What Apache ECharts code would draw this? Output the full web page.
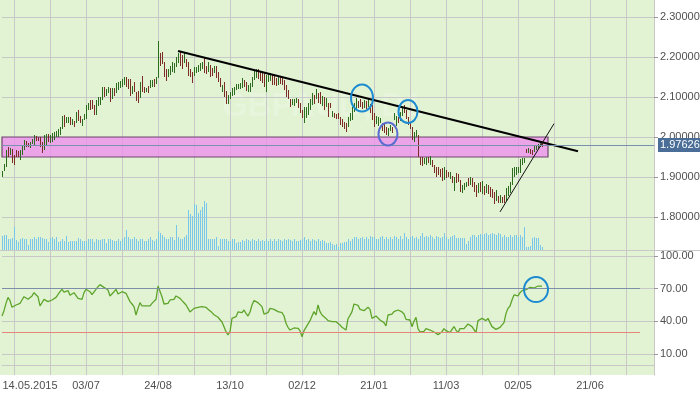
<!DOCTYPE html>
<html><head><meta charset="utf-8">
<script src="https://cdn.jsdelivr.net/npm/echarts@6/dist/echarts.min.js"></script>
<style>html,body{margin:0;padding:0;background:#fff}#c{width:700px;height:394px}</style>
</head><body><div id="c"></div>
<script>
// ---------------- data ----------------
const firstDate = '2015-05-06';      // first bar (weekday calendar, forex D1)
const slotCount = 327;               // weekday slots shown on the axis
const tickLabels = ['14.05.2015','03/07','24/08','13/10','02/12','21/01','11/03','02/05','21/06'];
const priceTicks = [1.8, 1.9, 2.0, 2.1, 2.2, 2.3];
const rsiTicks = [10, 40, 70, 100];

const high = [
1.9158,1.9325,1.9675,1.9758,1.9717,1.9692,1.955,1.9675,1.9658,1.9675,
1.9775,1.9925,1.9908,1.9842,1.9883,1.9942,2.005,2.0025,2.0008,1.9992,
1.9883,2.005,2.0075,2.0075,2.005,2.0108,2.0133,2.0158,2.0192,2.0242,
2.0525,2.055,2.0492,2.0508,2.0492,2.0442,2.0408,2.0633,2.0675,2.0525,
2.0442,2.0575,2.08,2.0858,2.0925,2.0925,2.08,2.0925,2.1008,2.0992,
2.1242,2.1242,2.1192,2.1258,2.1217,
2.1217,2.1217,2.1342,2.1383,2.1408,2.1442,2.1492,2.1508,2.1442,2.1442,
2.1275,2.1383,2.1133,2.1158,2.1383,2.1525,2.1258,2.1217,2.1275,2.1425,
2.1425,2.1442,2.1508,2.2408,2.2108,2.2133,2.1883,2.1692,2.1692,2.1775,
2.1883,2.1842,2.1992,2.2108,2.2158,2.205,2.2092,2.1942,2.1883,2.1692,
2.1633,2.1742,2.1758,2.18,2.1842,2.1883,2.1967,2.1775,2.1883,2.18,
2.1717,2.1775,2.1775,2.1633,2.1467,
2.13,2.1383,2.1158,2.105,2.1133,2.1217,2.1258,2.1325,2.1325,2.1358,
2.1467,2.1425,2.1383,2.13,2.1358,2.1508,2.1675,2.1692,2.1692,2.1633,
2.1608,2.1592,2.155,2.1575,2.1592,2.155,2.1525,2.1467,2.1508,2.1492,
2.1492,2.1425,2.13,2.1175,2.0942,2.0942,2.0942,2.0967,2.0942,2.0858,
2.0675,2.0758,2.0742,2.0858,2.0942,2.1092,2.105,2.1192,2.1092,2.1133,
2.1025,2.1008,2.0967,2.0858,2.0842,
2.0658,2.0592,2.0575,2.0592,2.0492,2.0442,2.0383,2.0358,2.0508,2.0592,
2.0758,2.0842,2.0967,2.0908,2.0942,2.0883,2.0925,2.0908,2.0967,2.0825,
2.08,2.0592,2.0525,2.0492,2.0467,2.0358,2.0342,2.0258,2.0217,2.03,
2.0258,2.0592,2.0525,2.0492,2.0633,2.0742,2.08,2.0675,2.0508,2.0383,
2.0258,2.0133,2.0175,2.005,1.9508,1.9492,1.9467,1.9508,1.9492,1.9525,
1.9425,1.93,1.9258,1.9258,1.9192,
1.9217,1.9258,1.9175,1.9133,1.9133,1.9025,1.9008,1.9108,1.9075,1.8925,
1.88,1.8858,1.8883,1.8967,1.9008,1.8967,1.8883,1.88,1.8842,1.8883,
1.8908,1.8775,1.8825,1.88,1.8758,1.8692,1.8633,1.8675,1.8525,1.855,
1.849,1.855,1.8717,1.8775,1.8883,1.9217,1.9242,1.9258,1.9258,1.9442,
1.9467,1.9467,1.9692,1.9717,1.9692,1.9675,1.9775,1.98,1.9825,1.9883,
1.9858];
const low = [
1.8992,1.9158,1.9242,1.9492,1.955,1.9358,1.93,1.9508,1.9508,1.9425,
1.955,1.9675,1.9758,1.9742,1.9717,1.9825,1.9775,1.9908,1.9908,1.9742,
1.9608,1.9675,1.98,1.9883,1.9858,1.9883,1.9925,1.9992,1.9992,2.005,
2.0192,2.0258,2.0342,2.0358,2.03,2.03,2.0242,2.0342,2.0408,2.0358,
2.0275,2.0425,2.0442,2.0675,2.0675,2.0692,2.055,2.055,2.0775,2.08,
2.0925,2.1008,2.1025,2.1092,2.0883,
2.0942,2.1025,2.1092,2.1175,2.1217,2.1242,2.13,2.1258,2.1192,2.1025,
2.1075,2.1133,2.0908,2.0858,2.0967,2.1133,2.1092,2.1133,2.1108,2.1217,
2.1258,2.1242,2.1325,2.1467,2.1775,2.1825,2.1508,2.1408,2.1508,2.155,
2.1633,2.1592,2.1742,2.1858,2.1775,2.1692,2.1842,2.1758,2.1525,2.1492,
2.1358,2.1525,2.1608,2.1633,2.1658,2.1692,2.1592,2.1575,2.1633,2.1508,
2.1525,2.1592,2.1467,2.1383,2.1242,
2.1133,2.1008,2.0825,2.0825,2.0942,2.1025,2.105,2.1175,2.1192,2.1192,
2.1217,2.1258,2.1158,2.1133,2.1133,2.1258,2.1425,2.1467,2.1442,2.1408,
2.1342,2.1258,2.1133,2.1383,2.1408,2.13,2.13,2.1275,2.13,2.1325,
2.13,2.1175,2.0992,2.0942,2.0758,2.08,2.0775,2.0842,2.0717,2.0592,
2.0467,2.0358,2.0467,2.055,2.0675,2.08,2.0825,2.0942,2.0842,2.0825,
2.0775,2.0675,2.0758,2.0508,2.0717,
2.0508,2.0467,2.0442,2.0442,2.03,2.0242,2.0192,2.0133,2.0242,2.0408,
2.0425,2.0633,2.0675,2.0717,2.0758,2.0692,2.0717,2.0692,2.0758,2.0592,
2.0425,2.0258,2.0325,2.0275,2.0342,2.0158,2.0108,2.005,2.0025,2.0158,
2.0092,2.0425,2.0275,2.0342,2.0408,2.0525,2.0592,2.0442,2.03,2.0192,
1.9925,1.9883,1.9992,1.9492,1.93,1.9275,1.9325,1.93,1.9358,1.93,
1.9242,1.9108,1.9008,1.905,1.9008,
1.8908,1.8925,1.8967,1.9008,1.8942,1.8858,1.8658,1.8842,1.8883,1.8633,
1.8608,1.8675,1.8742,1.8775,1.88,1.8758,1.8633,1.8492,1.8592,1.8633,
1.8575,1.855,1.8608,1.8575,1.8508,1.8467,1.8325,1.8408,1.8358,1.8342,
1.8342,1.8358,1.8408,1.8525,1.8592,1.88,1.9008,1.905,1.9092,1.9108,
1.93,1.9342,1.9592,1.9608,1.9575,1.955,1.9633,1.9675,1.9692,1.9742,
1.9762];
const direction = (
'GGGRGRRRRG'+'GGRRGGGRRR'+'RGGRGGGGGG'+'GRGGRGRGRR'+'GGGGRRRGGG'+'GRGGR'+
'GRGGGGGRRR'+'GRRRGRRGRG'+'GRGGRRRRGG'+'GGGGRRGRRR'+'RGGGGGRRGR'+'RGRRR'+
'GRRGGGGGGG'+'GRRGGGGGRR'+'RRGGGRRRGR'+'RRRRRGGGRR'+'RGGGGGRGRR'+'GRGRR'+
'GRRRRRRRGG'+'GGGRRRGRGR'+'RRGGGRRRGG'+'RGGRGGRRRR'+'RGGRRRGGRG'+'RRRRR'+
'RGRRGRGRRR'+'GGGRGRRRGR'+'GRGRRRRGRG'+'RRGGGGGGGG'+'GGRGRRGGGG'+'R').split('');

const volume = [
14,14.7,14.7,10.7,10.7,12,23.3,10,8,11.3,12,11.3,11.3,4.7,11.3,11.3,12.7,10.7,12.7,12.7,
12,11.3,10.7,8,12,12.7,10.7,12.7,8,9.3,11.3,9.3,14,8,9.3,9.3,9.3,9.3,12,10.7,
9.3,9.3,9.3,10.7,10.7,10.7,8,11.3,10,10,10.7,10.7,7.3,10.7,10.7,10,9.3,9.3,10.7,9.3,
10.7,12.7,20,12.7,10.7,11.3,12.7,10.7,9.3,10.7,11.3,9.3,9.3,10.7,12.7,10,9.3,11.3,18.7,16.7,
15.3,12.7,10.7,10.7,12.7,12.7,10,25,12.7,10.7,10.7,12.7,15,40,36,34,46,45,36.7,40,
42.7,49,46.7,10.7,11.3,11.3,10.7,12.7,4,10.7,11.3,11.3,11.3,9.3,9.3,10.7,11.3,6.7,8,8,
10,8.7,10.7,10,8.7,10.7,10,9.3,10.7,8.7,10,9.3,10.7,9.3,10.7,9.3,10.7,8.7,10.7,10,
9.3,10.7,10,10.7,10,8.7,10.7,9.3,8.7,10,11.3,12.7,10,10.7,8.7,10.7,10,8.7,10.7,9.3,
10,8.7,7,6.7,8,6,5,6,3,7.3,7.5,8,8,10.7,9.3,11.3,13.3,12.7,10.7,12,
13.3,10.7,12.7,11.3,14,12.7,13.3,11.3,10.7,12.7,14,11.3,13.3,11.3,12.7,10.7,14,12.7,10.7,14,
10.7,16.7,12.7,10.7,12.7,14,12,13.3,11.3,14,16.7,13.3,14,12.7,14.7,13.3,11.3,14,12.7,12,
13.3,17.3,13.3,10.7,12.7,
14,15.3,12,12,12,12,12,6,9.3,13.3,14.7,15.3,13.3,14.7,16,14.7,16,16.7,14.7,16,
17.3,16,14.7,17.3,16,13.3,14.7,13.3,13.3,14.7,13.3,14.7,15,13.3,14.7,13.3,23.3,3.3,2.7,4,
12,12.7,12,12,4.7,3];

const rsi = [
44.9,49.8,56.5,62.0,59.0,52.9,52.9,55.0,55.9,56.5,
59.6,62.6,61.1,60.2,62.0,63.3,66.3,65.7,62.6,54.1,
52.9,60.2,59.6,58.1,59.6,59.6,61.1,62.0,62.6,67.2,
69.4,66.9,66.3,68.2,63.9,64.2,66.3,67.2,61.1,59.6,
60.2,66.3,69.4,70.3,67.2,64.5,66.3,69.4,71.8,73.7,
75.5,71.2,70.0,68.8,63.3,65.1,67.2,69.4,65.1,66.3,
67.2,66.3,65.7,65.1,58.1,55.9,53.5,45.8,51.9,57.1,
54.1,53.5,54.1,53.5,54.1,56.5,58.1,60.2,72.4,71.2,
62.6,55.9,54.1,56.5,59.6,59.0,60.2,63.3,65.1,61.1,
59.0,57.1,55.0,51.9,48.6,50.4,51.9,52.5,52.9,54.1,
53.5,53.5,52.9,51.0,49.8,48.0,46.1,44.9,43.7,42.4,
39.4,35.1,30.5,27.4,30.5,42.7,41.2,44.3,48.6,47.3,
48.0,50.4,47.3,44.9,48.6,55.0,59.0,58.1,57.1,55.9,
53.5,46.7,46.7,48.0,51.9,53.5,51.0,49.2,48.9,49.8,
48.0,44.9,38.2,34.5,32.0,33.3,33.9,34.5,33.6,31.4,
25.9,31.4,34.5,36.3,40.6,44.9,48.9,45.8,55.0,48.9,
45.8,44.3,42.7,40.6,39.7,39.7,40.0,39.7,39.4,36.6,
34.5,33.3,32.0,42.4,45.5,48.9,55.9,56.5,54.7,51.0,
51.0,49.8,50.4,52.9,51.0,42.7,41.2,44.9,45.5,41.2,
40.6,38.8,35.7,45.8,45.8,46.7,48.9,47.3,50.4,49.8,
48.6,46.7,41.8,43.1,41.2,35.1,40.0,43.7,33.3,30.2,
29.0,30.8,33.3,33.9,32.0,31.4,30.2,29.0,27.8,26.8,
30.5,33.3,31.4,30.5,29.6,32.6,35.1,32.0,29.6,33.3,
33.9,33.3,35.1,37.5,36.3,35.1,33.6,29.6,40.6,39.7,
42.7,41.8,40.6,42.7,38.8,35.1,33.3,32.6,33.9,34.5,
33.3,38.8,47.3,51.9,54.1,59.6,64.2,65.1,63.3,66.3,
68.2,68.8,69.1,70.6,71.2,69.4,70.6,71.8,72.4,72.4,72.4];

const lastPrice = 1.97626;
const bandTop = 2.00, bandBottom = 1.95, bandStartIdx = 0, bandEndIdx = 273;
const trendDown = [[88, 2.215], [288, 1.9645]];
const trendUp = [[249, 1.8128], [276, 2.0333]];
const rsiLevelHigh = 70, rsiLevelLow = 30, rsiLevelEndIdx = 319;
// annotation circles in data coordinates: [index, value, rx, ry, panel]
const circles = [[180, 2.0975, 11, 13.5, 0], [193, 2.0075, 9.5, 11.5, 0], [203, 2.0638, 9.5, 11.5, 0], [267, 69.2, 12, 12.5, 2]];

// ---------------- chart ----------------
const categories = [];
{ const d = new Date(firstDate + 'T00:00:00Z');
  while (categories.length < slotCount) { const w = d.getUTCDay(); if (w !== 0 && w !== 6) categories.push(d.toISOString().slice(0, 10)); d.setUTCDate(d.getUTCDate() + 1); } }
const firstLabelIdx = categories.indexOf('2015-05-14');

const FONT = '"Liberation Sans", Arial, sans-serif';
const GRIDC = '#c8c8c8';
const UP = '#2c6c1f', DOWN = '#7c2c24', VOL = '#78c7ea';

const splitIv = (i) => i >= firstLabelIdx && (i - firstLabelIdx) % 18 === 0;
const labelIv = (i) => i >= firstLabelIdx && (i - firstLabelIdx) % 36 === 0;

function xAxis(gi) {
  return {
    type: 'category', gridIndex: gi, data: categories, boundaryGap: false,
    axisLine: { show: gi === 2, lineStyle: { color: GRIDC } },
    axisTick: { show: gi === 2, interval: splitIv, length: 3, lineStyle: { color: GRIDC } },
    axisLabel: {
      show: gi === 2, interval: labelIv, margin: 5, color: '#505050', fontSize: 11, fontFamily: FONT,
      formatter: (v, idx) => { const k = (idx - firstLabelIdx) / 36; if (k === 0) return '{f|' + tickLabels[0] + '}'; return tickLabels[k] || ''; },
      rich: { f: { padding: [0, 0, 0, 32], color: '#505050', fontSize: 11, fontFamily: FONT } }
    },
    splitLine: { show: gi !== 1, interval: splitIv, lineStyle: { color: GRIDC, width: 1 } }
  };
}
// width 652 over 326 gaps -> exactly 2px per weekday
const gridBase = { left: 2, right: 46, outerBoundsMode: 'none', containLabel: false };

// crisp 1px vertical bar between two data points
function vbar(api, i, v1, v2, color) {
  const a = api.coord([i, v1]), b = api.coord([i, v2]);
  const x = Math.round(a[0]);
  const y1 = Math.round(Math.min(a[1], b[1])), y2 = Math.round(Math.max(a[1], b[1]));
  return { type: 'rect', shape: { x: x, y: y1, width: 1, height: Math.max(1, y2 - y1) }, style: { fill: color, stroke: null, lineWidth: 0 } };
}

const chart = echarts.init(document.getElementById('c'));
chart.setOption({
  animation: false,
  grid: [
    Object.assign({ top: 0, height: 250 }, gridBase),
    Object.assign({ top: 190, height: 60 }, gridBase),
    Object.assign({ top: 250, height: 125 }, gridBase)
  ],
  xAxis: [xAxis(0), xAxis(1), xAxis(2)],
  yAxis: [
    { type: 'value', gridIndex: 0, position: 'right', min: 1.7175, max: 2.3425,
      axisLine: { show: true, lineStyle: { color: GRIDC } },
      axisTick: { show: true, length: 4, customValues: priceTicks, lineStyle: { color: '#999' } },
      axisLabel: { customValues: priceTicks, formatter: (v) => v.toFixed(5), margin: 6, color: '#505050', fontSize: 11, fontFamily: FONT },
      splitLine: { show: true, lineStyle: { color: GRIDC } } },
    { type: 'value', gridIndex: 1, min: 0, max: 60, show: false },
    { type: 'value', gridIndex: 2, position: 'right', min: -9.3, max: 105.5,
      axisLine: { show: true, lineStyle: { color: GRIDC } },
      axisTick: { show: true, length: 4, customValues: rsiTicks, lineStyle: { color: '#999' } },
      axisLabel: { customValues: rsiTicks, formatter: (v) => v.toFixed(2), margin: 6, color: '#505050', fontSize: 11, fontFamily: FONT },
      splitLine: { show: true, lineStyle: { color: GRIDC } } }
  ],
  series: [
    { type: 'custom', name: 'volume', xAxisIndex: 1, yAxisIndex: 1, z: 2, progressive: 0,
      data: volume.map((v, i) => [i, v]),
      renderItem: (p, api) => vbar(api, api.value(0), 0, api.value(1), VOL) },
    { type: 'custom', name: 'price', xAxisIndex: 0, yAxisIndex: 0, z: 3, progressive: 0,
      data: high.map((h, i) => [i, low[i], h, direction[i] === 'G' ? 1 : -1]),
      encode: { x: 0, y: [1, 2] },
      renderItem: (p, api) => vbar(api, api.value(0), api.value(1), api.value(2), api.value(3) > 0 ? UP : DOWN),
      markLine: { silent: true, symbol: 'none', animation: false,
        lineStyle: { color: '#7891ae', width: 1, type: 'solid' },
        label: { show: true, position: 'end', distance: 4, formatter: lastPrice.toFixed(5), backgroundColor: '#4a6e98', color: '#fff', padding: [2, 2, 1, 2], fontSize: 11, fontFamily: FONT },
        data: [{ yAxis: lastPrice }] } },
    { type: 'line', name: 'trendDown', xAxisIndex: 0, yAxisIndex: 0, z: 4, data: trendDown, showSymbol: false, symbol: 'none',
      lineStyle: { color: '#000', width: 2 } },
    { type: 'line', name: 'trendUp', xAxisIndex: 0, yAxisIndex: 0, z: 4, data: trendUp, showSymbol: false, symbol: 'none',
      lineStyle: { color: '#111', width: 1 } },
    { type: 'line', name: 'band', xAxisIndex: 0, yAxisIndex: 0, z: 10, data: [],
      markArea: { silent: true,
        itemStyle: { color: 'rgba(236,146,236,0.82)', borderColor: '#6e446e', borderWidth: 1.2 },
        data: [[{ coord: [bandStartIdx, bandTop] }, { coord: [bandEndIdx, bandBottom] }]] } },
    { type: 'line', name: 'rsi', xAxisIndex: 2, yAxisIndex: 2, z: 4, data: rsi, showSymbol: false, symbol: 'none',
      lineStyle: { color: '#5ea42b', width: 1.3 },
      markLine: { silent: true, symbol: 'none', label: { show: false },
        data: [
          [{ coord: [0, rsiLevelHigh], lineStyle: { color: '#7d8fa8', width: 1, type: 'solid' } }, { coord: [rsiLevelEndIdx, rsiLevelHigh] }],
          [{ coord: [0, rsiLevelLow], lineStyle: { color: '#e8857a', width: 1, type: 'solid' } }, { coord: [rsiLevelEndIdx, rsiLevelLow] }]
        ] } }
  ]
});

const gfx = [
  { type: 'rect', id: 'bg', z: -10, silent: true, shape: { x: 0, y: 0, width: 654, height: 375 }, style: { fill: '#e2f3d4' } },
  { type: 'text', id: 'wm', z: -5, silent: true, left: 222, top: 90, style: { text: 'GBPAUD, D1', fill: 'rgba(255,255,255,0.16)', font: 'bold 33px ' + FONT } },
  { type: 'line', id: 'sep', z: 1, silent: true, shape: { x1: 0, y1: 250.5, x2: 700, y2: 250.5 }, style: { stroke: GRIDC, lineWidth: 1 } }
];
circles.forEach((c, k) => {
  const p = chart.convertToPixel({ xAxisIndex: c[4], yAxisIndex: c[4] }, [c[0], c[1]]);
  gfx.push({ type: 'ellipse', id: 'c' + k, z: 20, silent: true, shape: { cx: p[0], cy: p[1], rx: c[2], ry: c[3] },
    style: { fill: 'none', stroke: k === 1 ? '#5a6ccf' : '#1d8bd0', lineWidth: 2 } });
});
chart.setOption({ graphic: gfx });
</script></body></html>
